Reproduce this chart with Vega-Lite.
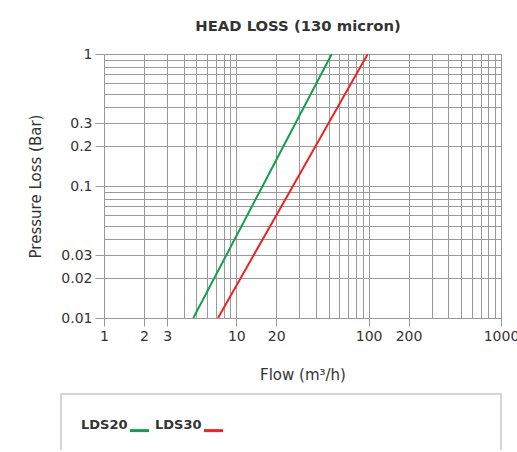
{
  "$schema": "https://vega.github.io/schema/vega-lite/v6.json",
  "padding": {"left": 28, "top": 19, "right": -1, "bottom": -25},
  "bounds": "flush",
  "spacing": 76,
  "config": {"font": "DejaVu Sans"},
  "vconcat": [
    {
      "width": 440,
      "height": 264,
      "view": {"stroke": null},
      "title": {"text": "HEAD LOSS (130 micron)", "fontSize": 14.8, "fontWeight": "bold", "color": "#333333", "dx": 17, "baseline": "alphabetic", "offset": 1},
      "data": {"values": [
        {"series": "LDS20", "flow": 4.73, "loss": 0.01},
        {"series": "LDS20", "flow": 15.8, "loss": 0.1},
        {"series": "LDS20", "flow": 52.6, "loss": 1},
        {"series": "LDS30", "flow": 7.27, "loss": 0.01},
        {"series": "LDS30", "flow": 26.8, "loss": 0.1},
        {"series": "LDS30", "flow": 98.4, "loss": 1}
      ]},
      "mark": {"type": "line", "strokeWidth": 2, "clip": true},
      "encoding": {
        "x": {
          "field": "flow", "type": "quantitative",
          "scale": {"type": "log", "domain": [1, 1000], "range": [43, 440]},
          "axis": {
            "values": [1,2,3,4,5,6,7,8,9,10,20,30,40,50,60,70,80,90,100,200,300,400,500,600,700,800,900,1000],
            "format": "d",
            "labelExpr": "indexof([1,2,3,10,20,100,200,1000], datum.value) >= 0 ? datum.label : ''",
            "labelOverlap": false, "labelFlush": false,
            "labelFontSize": 14, "labelColor": "#333333", "labelPadding": 3,
            "tickSize": 8, "tickColor": "#999999",
            "tickOpacity": {"condition": {"test": "indexof([1,2,3,10,20,100,200,1000], datum.value) >= 0", "value": 1}, "value": 0},
            "grid": true, "gridColor": "#999999", "gridOpacity": 1, "gridWidth": 1,
            "domainColor": "#999999",
            "title": "Flow (m³/h)", "titleFontSize": 15, "titleFontWeight": "normal", "titleColor": "#333333", "titlePadding": 24
          }
        },
        "y": {
          "field": "loss", "type": "quantitative",
          "scale": {"type": "log", "domain": [0.01, 1]},
          "axis": {
            "values": [0.01,0.02,0.03,0.04,0.05,0.06,0.07,0.08,0.09,0.1,0.2,0.3,0.4,0.5,0.6,0.7,0.8,0.9,1],
            "format": "~g",
            "labelExpr": "indexof([0.01,0.02,0.03,0.1,0.2,0.3,1], datum.value) >= 0 ? datum.label : ''",
            "labelOverlap": false, "labelFlush": false,
            "labelFontSize": 14, "labelColor": "#333333", "labelPadding": 3,
            "offset": -43,
            "tickSize": 9, "tickColor": "#999999",
            "tickOpacity": {"condition": {"test": "indexof([0.01,0.02,0.03,0.1,0.2,0.3,1], datum.value) >= 0", "value": 1}, "value": 0},
            "grid": true, "gridColor": "#999999", "gridOpacity": 1, "gridWidth": 1,
            "domainColor": "#999999",
            "title": "Pressure Loss (Bar)", "titleFontSize": 15, "titleFontWeight": "normal", "titleColor": "#333333", "titlePadding": 17
          }
        },
        "color": {
          "field": "series", "type": "nominal",
          "scale": {"domain": ["LDS20", "LDS30"], "range": ["#12a14b", "#ee2424"]},
          "legend": {
            "title": null, "orient": "none", "legendX": 20, "legendY": 360, "direction": "horizontal",
            "labelFontSize": 13, "labelFontWeight": "bold", "labelColor": "#333333",
            "symbolType": "M-1,0.55H1", "symbolSize": 361, "symbolStrokeWidth": 3,
            "labelOffset": -69.5, "symbolOffset": 47.5, "columnPadding": 0, "padding": 0
          }
        }
      }
    },
    {
      "width": 440,
      "height": 80,
      "view": {"stroke": "#c8c8c8", "strokeWidth": 1.5},
      "data": {"values": []},
      "mark": "text"
    }
  ]
}
